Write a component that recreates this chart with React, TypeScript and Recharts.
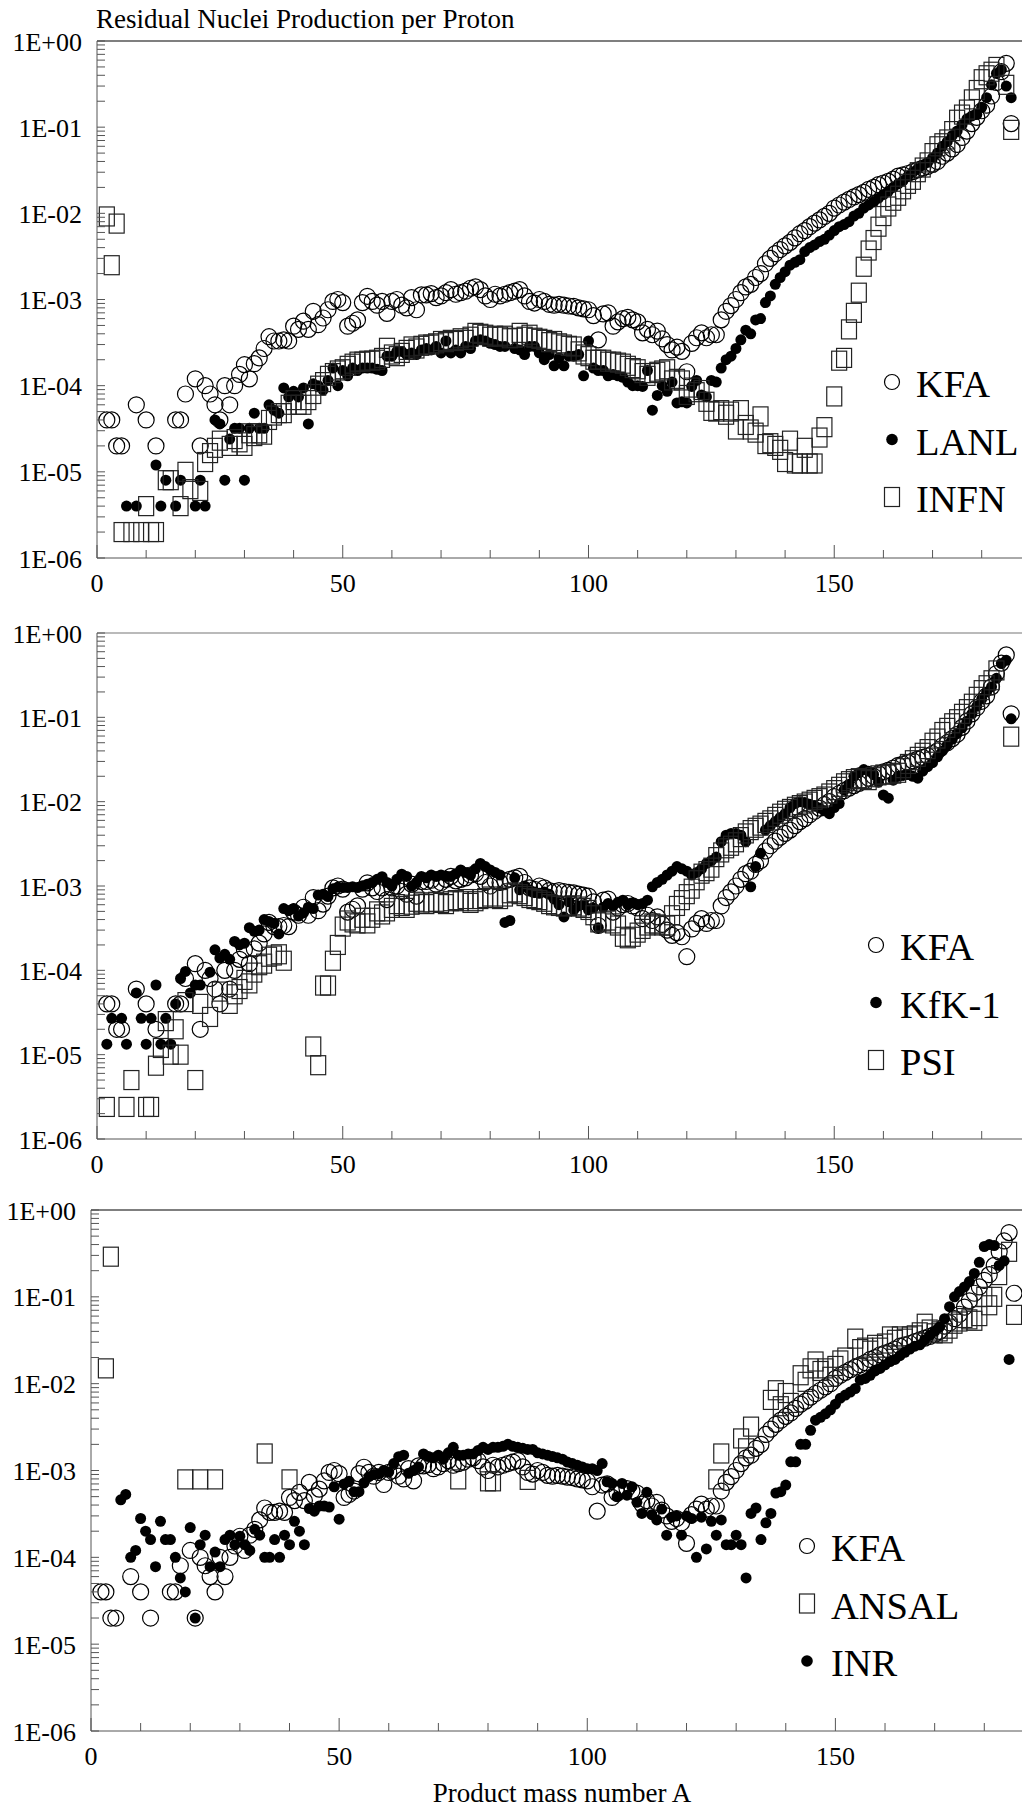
import React from "react";
import { Legend, ReferenceLine, Scatter, ScatterChart, XAxis, YAxis } from "recharts";

const SERIF = "'Liberation Serif', 'Times New Roman', Times, serif";
const INK = "#000000";
const AXIS = "#555555";
const TEXT_STYLE = { fontFamily: SERIF };

type Pt = [number, number]; // [mass number A, nuclei per proton]
type Mark = "ring" | "dot" | "box";

// KFA calculation (shown in every panel)
const KFA: Pt[] = [
  [2, 4e-5], [3, 4e-5], [4, 2e-5], [5, 2e-5], [8, 6e-5], [10, 4e-5], [12, 2e-5], [16, 4e-5], [17, 4e-5],
  [18, 8e-5], [20, 1.2e-4], [21, 2e-5], [22, 1e-4], [23, 8e-5], [24, 6e-5], [25, 4e-5], [26, 1e-4],
  [27, 6e-5], [28, 1e-4], [29, 1.35e-4], [30, 1.75e-4], [31, 1.2e-4], [32, 1.8e-4], [33, 2.1e-4],
  [34, 2.7e-4], [35, 3.7e-4], [36, 3.3e-4], [37, 3.3e-4], [38, 3.4e-4], [39, 3.3e-4], [40, 4.9e-4],
  [41, 4.5e-4], [42, 5.6e-4], [43, 4.5e-4], [44, 7.3e-4], [45, 5.1e-4], [46, 6.1e-4], [47, 7.6e-4],
  [48, 9.5e-4], [49, 1e-3], [50, 9.2e-4], [51, 4.9e-4], [52, 5.3e-4], [53, 5.8e-4], [54, 9.2e-4],
  [55, 1.09e-3], [56, 9.5e-4], [57, 8.6e-4], [58, 9.5e-4], [59, 6.9e-4], [60, 9.5e-4], [61, 1e-3],
  [62, 8.6e-4], [63, 8e-4], [64, 1.05e-3], [65, 7.6e-4], [66, 1.13e-3], [67, 1.13e-3], [68, 1.17e-3],
  [69, 1.05e-3], [70, 1.1e-3], [71, 1.2e-3], [72, 1.3e-3], [73, 1.15e-3], [74, 1.2e-3], [75, 1.25e-3],
  [76, 1.35e-3], [77, 1.4e-3], [78, 1.3e-3], [79, 1.1e-3], [80, 1e-3], [81, 1.15e-3], [82, 1.1e-3],
  [83, 1.15e-3], [84, 1.2e-3], [85, 1.25e-3], [86, 1.3e-3], [87, 1.1e-3], [88, 9.5e-4], [89, 9.1e-4],
  [90, 1e-3], [91, 9.5e-4], [92, 8.8e-4], [93, 8.6e-4], [94, 8.8e-4], [95, 8.6e-4], [96, 8.4e-4],
  [97, 8.3e-4], [98, 8e-4], [99, 7.8e-4], [100, 7.6e-4], [101, 6.5e-4], [102, 3.4e-4], [103, 6.8e-4],
  [104, 7e-4], [105, 4.9e-4], [106, 5.5e-4], [107, 6e-4], [108, 6.2e-4], [109, 5.8e-4], [110, 5.5e-4],
  [111, 4.1e-4], [112, 4.5e-4], [113, 3.9e-4], [114, 4.3e-4], [115, 3.5e-4], [116, 3e-4], [117, 2.6e-4],
  [118, 2.8e-4], [119, 2.5e-4], [120, 1.45e-4], [121, 3.1e-4], [122, 3.6e-4], [123, 4.1e-4],
  [124, 3.6e-4], [125, 3.9e-4], [126, 3.9e-4], [127, 5.8e-4], [128, 7.3e-4], [129, 8.5e-4], [130, 1e-3],
  [131, 1.2e-3], [132, 1.4e-3], [133, 1.5e-3], [134, 1.8e-3], [135, 2e-3], [136, 2.6e-3], [137, 3e-3],
  [138, 3.4e-3], [139, 3.8e-3], [140, 4.2e-3], [141, 4.6e-3], [142, 5.2e-3], [143, 5.8e-3], [144, 6.3e-3],
  [145, 7e-3], [146, 7.7e-3], [147, 8.4e-3], [148, 9.2e-3], [149, 1e-2], [150, 1.15e-2], [151, 1.25e-2],
  [152, 1.35e-2], [153, 1.45e-2], [154, 1.55e-2], [155, 1.65e-2], [156, 1.75e-2], [157, 1.9e-2],
  [158, 2e-2], [159, 2.15e-2], [160, 2.25e-2], [161, 2.35e-2], [162, 2.5e-2], [163, 2.7e-2], [164, 2.8e-2],
  [165, 2.9e-2], [166, 3.05e-2], [167, 3.2e-2], [168, 3.35e-2], [169, 3.5e-2], [170, 3.7e-2], [171, 4e-2],
  [172, 4.6e-2], [173, 5e-2], [174, 5.6e-2], [175, 6.3e-2], [176, 7.6e-2], [177, 9e-2], [178, 0.11],
  [179, 0.13], [180, 0.155], [181, 0.18], [182, 0.23], [183, 0.33], [184, 0.44], [185, 0.55], [186, 0.11],
];

const LANL: Pt[] = [
  [6, 4e-6], [8, 4e-6], [12, 1.2e-5], [13, 4e-6], [14, 8e-6], [16, 4e-6], [17, 8e-6], [20, 4e-6], [21, 8e-6],
  [22, 4e-6], [24, 4e-5], [25, 3.6e-5], [26, 8e-6], [27, 2.4e-5], [28, 3.2e-5], [29, 3.2e-5], [30, 8e-6],
  [31, 3.2e-5], [32, 4.8e-5], [33, 3.2e-5], [34, 3.2e-5], [35, 6e-5], [36, 5.2e-5], [37, 4.8e-5],
  [38, 9.4e-5], [39, 7.4e-5], [40, 8.6e-5], [41, 7.4e-5], [42, 9.4e-5], [43, 3.6e-5], [44, 1.05e-4],
  [45, 1e-4], [46, 8.9e-5], [47, 1.15e-4], [48, 1.6e-4], [49, 1e-4], [50, 1.5e-4], [51, 1.3e-4],
  [52, 1.6e-4], [53, 1.5e-4], [54, 1.6e-4], [55, 1.6e-4], [56, 1.6e-4], [57, 1.55e-4], [58, 1.5e-4],
  [59, 2.2e-4], [60, 2.2e-4], [61, 2.5e-4], [62, 2.5e-4], [63, 2.3e-4], [64, 2.4e-4], [65, 2.3e-4],
  [66, 2.6e-4], [67, 2.7e-4], [68, 2.6e-4], [69, 2.85e-4], [70, 2.4e-4], [71, 3.3e-4], [72, 2.4e-4],
  [73, 2.6e-4], [74, 2.4e-4], [75, 2.85e-4], [76, 2.7e-4], [77, 3.3e-4], [78, 3.4e-4], [79, 3.3e-4],
  [80, 3.1e-4], [81, 3e-4], [82, 2.85e-4], [83, 2.85e-4], [85, 2.7e-4], [86, 2.6e-4], [87, 2.3e-4],
  [88, 2.85e-4], [89, 2.85e-4], [90, 2.4e-4], [91, 2e-4], [92, 2.3e-4], [93, 1.7e-4], [94, 2.1e-4],
  [95, 1.7e-4], [96, 2.2e-4], [97, 2.2e-4], [98, 2.3e-4], [99, 1.3e-4], [100, 3.3e-4], [101, 1.6e-4],
  [102, 1.5e-4], [103, 1.5e-4], [104, 1.3e-4], [105, 1.35e-4], [106, 1.3e-4], [107, 1.25e-4],
  [108, 1.1e-4], [109, 1e-4], [110, 1e-4], [111, 9.8e-5], [112, 1.5e-4], [113, 5.2e-5], [114, 7.7e-5],
  [115, 1e-4], [116, 8.6e-5], [117, 1.1e-4], [118, 6.3e-5], [119, 6.5e-5], [120, 6.3e-5], [121, 9.8e-5],
  [122, 1.15e-4], [123, 7.8e-5], [124, 7.4e-5], [125, 1.15e-4], [126, 1.1e-4], [127, 1.6e-4], [128, 2e-4],
  [129, 2.2e-4], [130, 2.7e-4], [131, 3.4e-4], [132, 4.4e-4], [133, 4e-4], [134, 5.8e-4], [135, 6e-4],
  [136, 9.2e-4], [137, 1.1e-3], [138, 1.5e-3], [139, 1.8e-3], [140, 2.1e-3], [141, 2.5e-3], [142, 2.7e-3],
  [143, 2.9e-3], [144, 3.6e-3], [145, 4e-3], [146, 4.3e-3], [147, 4.7e-3], [148, 5e-3], [149, 5.6e-3],
  [150, 6.3e-3], [151, 7e-3], [152, 7.4e-3], [153, 8e-3], [154, 9.3e-3], [155, 1e-2], [156, 1.15e-2],
  [157, 1.25e-2], [158, 1.35e-2], [159, 1.5e-2], [160, 1.65e-2], [161, 1.8e-2], [162, 2e-2], [163, 2.2e-2],
  [164, 2.4e-2], [165, 2.7e-2], [166, 3e-2], [167, 3.3e-2], [168, 3.6e-2], [169, 3.9e-2], [170, 4.4e-2],
  [171, 5e-2], [172, 6e-2], [173, 6.8e-2], [174, 8e-2], [175, 9e-2], [176, 0.107], [177, 0.125],
  [178, 0.135], [179, 0.14], [180, 0.17], [181, 0.22], [182, 0.31], [183, 0.42], [184, 0.465], [185, 0.3],
  [186, 0.22],
];

const INFN: Pt[] = [
  [2, 9.2e-3], [3, 2.5e-3], [4, 7.6e-3], [5, 2e-6], [7, 2e-6], [9, 2e-6], [10, 4e-6], [11, 2e-6], [12, 2e-6],
  [14, 8e-6], [15, 8e-6], [17, 4e-6], [18, 1e-5], [19, 6.3e-6], [21, 6e-6], [22, 1.3e-5], [23, 1.65e-5],
  [24, 1.9e-5], [25, 2.3e-5], [27, 2e-5], [28, 2.4e-5], [29, 2.2e-5], [30, 2e-5], [31, 2.8e-5], [32, 2.6e-5],
  [33, 2.8e-5], [34, 2.7e-5], [35, 4e-5], [36, 4.5e-5], [37, 4.8e-5], [38, 4.8e-5], [39, 6e-5], [40, 6.8e-5],
  [41, 6e-5], [42, 6e-5], [43, 6.8e-5], [44, 8e-5], [45, 1e-4], [46, 1.1e-4], [47, 1.3e-4], [48, 1.4e-4],
  [49, 1.5e-4], [50, 1.55e-4], [51, 1.7e-4], [52, 1.8e-4], [53, 1.9e-4], [54, 1.9e-4], [55, 1.95e-4],
  [56, 1.95e-4], [57, 2e-4], [58, 2.1e-4], [59, 2.75e-4], [60, 2.3e-4], [61, 2.2e-4], [62, 2.4e-4],
  [63, 2.6e-4], [64, 2.85e-4], [65, 2.7e-4], [66, 2.9e-4], [67, 3e-4], [68, 3e-4], [69, 3.1e-4], [70, 3.3e-4],
  [71, 3.2e-4], [72, 3.4e-4], [73, 3.3e-4], [74, 3.55e-4], [75, 3.4e-4], [76, 3.7e-4], [77, 4.1e-4],
  [78, 4e-4], [79, 3.9e-4], [80, 3.7e-4], [81, 3.8e-4], [82, 3.7e-4], [83, 3.8e-4], [84, 3.55e-4],
  [85, 3.6e-4], [86, 4.1e-4], [87, 3.7e-4], [88, 3.9e-4], [89, 3.6e-4], [90, 3.5e-4], [91, 3.4e-4],
  [92, 3.2e-4], [93, 3.3e-4], [94, 3.1e-4], [95, 3e-4], [96, 2.9e-4], [97, 2.85e-4], [98, 2.5e-4],
  [99, 2.3e-4], [100, 2.2e-4], [101, 2e-4], [102, 2e-4], [103, 2e-4], [104, 1.9e-4], [105, 1.9e-4],
  [106, 1.85e-4], [107, 1.8e-4], [108, 1.7e-4], [109, 1.6e-4], [110, 1.55e-4], [111, 1.4e-4], [112, 1.3e-4],
  [113, 1.4e-4], [114, 1.45e-4], [115, 1.5e-4], [116, 1.55e-4], [117, 1.15e-4], [118, 1.2e-4],
  [119, 1.15e-4], [120, 7.8e-5], [121, 9.5e-5], [122, 8.4e-5], [123, 8.9e-5], [124, 6.5e-5], [125, 5.1e-5],
  [126, 5e-5], [127, 5.2e-5], [128, 4.6e-5], [129, 5e-5], [130, 3.1e-5], [131, 5.2e-5], [132, 3.5e-5],
  [133, 3.1e-5], [134, 2.85e-5], [135, 4.4e-5], [136, 2.1e-5], [137, 2.15e-5], [138, 2e-5], [139, 1.8e-5],
  [140, 1.3e-5], [141, 2.3e-5], [142, 1.25e-5], [143, 1.25e-5], [144, 1.9e-5], [145, 1.25e-5],
  [146, 1.25e-5], [147, 2.5e-5], [148, 3.3e-5], [150, 7.5e-5], [151, 1.95e-4], [152, 2.1e-4], [153, 4.5e-4],
  [154, 7e-4], [155, 1.2e-3], [156, 2.4e-3], [157, 3.7e-3], [158, 4.9e-3], [159, 7e-3], [160, 9.3e-3],
  [161, 1.2e-2], [162, 1.4e-2], [163, 1.6e-2], [164, 1.9e-2], [165, 2.2e-2], [166, 2.45e-2], [167, 3e-2],
  [168, 3.4e-2], [169, 3.9e-2], [170, 5e-2], [171, 6e-2], [172, 6.5e-2], [173, 7.2e-2], [174, 9e-2],
  [175, 0.122], [176, 0.14], [177, 0.16], [178, 0.21], [179, 0.27], [180, 0.36], [181, 0.4], [182, 0.44],
  [183, 0.5], [185, 0.31], [186, 9.3e-2],
];

const KFK1: Pt[] = [
  [2, 1.33e-5], [3, 2.7e-5], [5, 2.7e-5], [6, 1.33e-5], [8, 5.4e-5], [9, 2.7e-5], [10, 1.33e-5], [11, 2.7e-5],
  [12, 6.7e-5], [13, 1.33e-5], [14, 2.7e-5], [15, 1.33e-5], [16, 4e-5], [17, 8e-5], [18, 9.7e-5],
  [19, 5.4e-5], [20, 6.7e-5], [21, 6.7e-5], [23, 9.5e-5], [24, 1.75e-4], [25, 1.4e-4], [26, 1.55e-4],
  [27, 1.35e-4], [28, 2.2e-4], [29, 2e-4], [30, 2.1e-4], [31, 3.2e-4], [32, 2.9e-4], [33, 3e-4], [34, 4e-4],
  [35, 3.8e-4], [36, 3.6e-4], [37, 2.7e-4], [38, 5.4e-4], [39, 5.1e-4], [40, 5.4e-4], [41, 4.4e-4],
  [42, 4.8e-4], [43, 5.6e-4], [44, 5.4e-4], [45, 7.8e-4], [46, 8e-4], [47, 7.5e-4], [48, 9.3e-4],
  [49, 9.7e-4], [50, 9.6e-4], [51, 9.6e-4], [52, 9.8e-4], [53, 9.6e-4], [54, 1e-3], [55, 1.05e-3],
  [56, 1.1e-3], [57, 1.2e-3], [58, 1.29e-3], [59, 1.1e-3], [60, 1e-3], [61, 1.2e-3], [62, 1.38e-3],
  [63, 1.3e-3], [64, 1e-3], [65, 1.1e-3], [66, 1.3e-3], [67, 1.25e-3], [68, 1.35e-3], [69, 1.3e-3],
  [70, 1.35e-3], [71, 1.3e-3], [72, 1.3e-3], [73, 1.4e-3], [74, 1.55e-3], [75, 1.45e-3], [76, 1.35e-3],
  [77, 1.6e-3], [78, 1.85e-3], [79, 1.7e-3], [80, 1.55e-3], [81, 1.45e-3], [82, 1.35e-3], [83, 3.7e-4],
  [84, 3.9e-4], [85, 1.25e-3], [86, 9e-4], [87, 1e-3], [88, 9e-4], [89, 8.5e-4], [90, 8.2e-4], [91, 8.5e-4],
  [92, 8e-4], [93, 7e-4], [94, 6e-4], [95, 4.3e-4], [96, 6.5e-4], [97, 5.2e-4], [98, 5.8e-4], [99, 6e-4],
  [100, 5.2e-4], [101, 5.5e-4], [102, 3.2e-4], [103, 5.6e-4], [104, 6.2e-4], [105, 5.8e-4], [106, 6.4e-4],
  [107, 6.8e-4], [108, 6e-4], [109, 6.3e-4], [110, 6e-4], [111, 6.2e-4], [112, 6.8e-4], [113, 9.8e-4],
  [114, 1.1e-3], [115, 1.2e-3], [116, 1.35e-3], [117, 1.5e-3], [118, 1.7e-3], [119, 1.6e-3], [120, 1.5e-3],
  [121, 1.35e-3], [122, 1.45e-3], [123, 1.6e-3], [124, 1.85e-3], [125, 2e-3], [126, 2.2e-3], [127, 3.35e-3],
  [128, 4e-3], [129, 4.2e-3], [130, 4.2e-3], [131, 4e-3], [132, 3.35e-3], [133, 9.8e-4], [134, 1.7e-3],
  [135, 2.45e-3], [136, 4.6e-3], [137, 5.2e-3], [138, 5.8e-3], [139, 6.5e-3], [140, 7.2e-3], [141, 8.5e-3],
  [142, 9.5e-3], [143, 1e-2], [144, 9.8e-3], [145, 9.3e-3], [146, 9e-3], [147, 8.4e-3], [148, 7.8e-3],
  [149, 7.2e-3], [150, 8.5e-3], [151, 9.5e-3], [152, 1.37e-2], [153, 1.6e-2], [154, 2e-2], [155, 2.2e-2],
  [156, 2.4e-2], [157, 2.3e-2], [158, 2.1e-2], [159, 1.7e-2], [160, 1.2e-2], [161, 1.1e-2], [162, 1.8e-2],
  [163, 2e-2], [164, 2.05e-2], [165, 2.1e-2], [166, 2e-2], [167, 1.9e-2], [168, 2.3e-2], [169, 2.6e-2],
  [170, 2.9e-2], [171, 3.4e-2], [172, 4e-2], [173, 4.7e-2], [174, 5.5e-2], [175, 6.4e-2], [176, 7.5e-2],
  [177, 9e-2], [178, 0.11], [179, 0.135], [180, 0.165], [181, 0.2], [182, 0.23], [183, 0.29], [184, 0.435],
  [185, 0.475], [186, 9.6e-2],
];

const PSI: Pt[] = [
  [2, 2.4e-6], [6, 2.4e-6], [7, 5e-6], [10, 2.4e-6], [11, 2.4e-6], [12, 7.4e-6], [13, 1.2e-5], [14, 2.5e-5],
  [15, 1e-5], [16, 2e-5], [17, 1e-5], [18, 4.2e-5], [20, 5e-6], [21, 4e-5], [23, 2.8e-5], [25, 5.6e-5],
  [27, 4e-5], [28, 5.2e-5], [29, 6e-5], [30, 7.7e-5], [31, 7e-5], [32, 9.4e-5], [33, 1.15e-4], [34, 1.2e-4],
  [35, 1.45e-4], [36, 1.5e-4], [37, 1.55e-4], [38, 1.3e-4], [44, 1.25e-5], [45, 7.5e-6], [46, 6.6e-5],
  [47, 6.6e-5], [48, 1.3e-4], [49, 2e-4], [50, 3.3e-4], [51, 3.9e-4], [52, 3.7e-4], [53, 3.6e-4],
  [54, 4.2e-4], [55, 3.6e-4], [56, 4.2e-4], [57, 5e-4], [58, 4.6e-4], [59, 5e-4], [60, 5.5e-4], [61, 6.1e-4],
  [62, 5.8e-4], [63, 5.5e-4], [64, 6e-4], [65, 6.5e-4], [66, 6.2e-4], [67, 6.1e-4], [68, 6.4e-4],
  [69, 6.5e-4], [70, 6.3e-4], [71, 6.1e-4], [72, 6.6e-4], [73, 6.8e-4], [74, 6.6e-4], [75, 7e-4],
  [76, 6.3e-4], [77, 6.6e-4], [78, 7e-4], [79, 7.2e-4], [80, 7.5e-4], [81, 7.2e-4], [82, 7e-4], [83, 7.5e-4],
  [84, 8.2e-4], [85, 8.4e-4], [86, 8e-4], [87, 7.6e-4], [88, 7.2e-4], [89, 7e-4], [90, 6.8e-4], [91, 6.5e-4],
  [92, 6.1e-4], [93, 5.9e-4], [94, 5.8e-4], [95, 5.7e-4], [96, 5.8e-4], [97, 5.9e-4], [98, 5.7e-4],
  [99, 5.5e-4], [100, 5.2e-4], [101, 4.5e-4], [102, 3.7e-4], [103, 3.8e-4], [104, 3.9e-4], [105, 3.6e-4],
  [106, 3.4e-4], [107, 2.5e-4], [108, 2.4e-4], [109, 2.5e-4], [110, 2.8e-4], [111, 3.1e-4], [112, 3.4e-4],
  [113, 3.6e-4], [114, 3.5e-4], [115, 3.4e-4], [116, 3.4e-4], [117, 4.5e-4], [118, 5.8e-4], [119, 6.8e-4],
  [120, 8e-4], [121, 9.3e-4], [122, 1.17e-3], [123, 1.4e-3], [124, 1.5e-3], [125, 1.65e-3], [126, 2.2e-3],
  [127, 2.5e-3], [128, 2.8e-3], [129, 3e-3], [130, 3.3e-3], [131, 3.8e-3], [132, 4.2e-3], [133, 4.6e-3],
  [134, 4.9e-3], [135, 5.2e-3], [136, 5.6e-3], [137, 6e-3], [138, 6.6e-3], [139, 7.2e-3], [140, 7.8e-3],
  [141, 8.2e-3], [142, 8.7e-3], [143, 9.1e-3], [144, 9.5e-3], [145, 1e-2], [146, 1.05e-2], [147, 1.1e-2],
  [148, 1.15e-2], [149, 1.25e-2], [150, 1.37e-2], [151, 1.5e-2], [152, 1.65e-2], [153, 1.75e-2],
  [154, 1.85e-2], [155, 1.9e-2], [156, 1.85e-2], [157, 1.8e-2], [158, 1.95e-2], [159, 2.05e-2], [160, 2.1e-2],
  [161, 2.1e-2], [162, 2.15e-2], [163, 2.2e-2], [164, 2.5e-2], [165, 2.8e-2], [166, 3.1e-2], [167, 3.4e-2],
  [168, 3.8e-2], [169, 4.2e-2], [170, 5e-2], [171, 5.6e-2], [172, 6.7e-2], [173, 7.5e-2], [174, 8.5e-2],
  [175, 9.5e-2], [176, 0.11], [177, 0.125], [178, 0.145], [179, 0.175], [180, 0.21], [181, 0.24],
  [182, 0.275], [183, 0.36], [186, 5.9e-2],
];

const ANSAL: Pt[] = [
  [3, 1.5e-2], [4, 0.29], [19, 7.9e-4], [22, 7.9e-4], [25, 7.9e-4], [35, 1.57e-3], [40, 7.9e-4],
  [74, 7.9e-4], [80, 7.5e-4], [81, 7.5e-4], [88, 7.8e-4], [126, 7.9e-4], [127, 1.57e-3], [131, 2.34e-3],
  [132, 1.8e-3], [133, 3.2e-3], [137, 6.5e-3], [138, 8.4e-3], [139, 5.5e-3], [140, 7.8e-3], [141, 6e-3],
  [143, 1.25e-2], [144, 1.05e-2], [145, 1.5e-2], [146, 1.8e-2], [147, 1.4e-2], [148, 1.5e-2], [149, 1.2e-2],
  [150, 1.6e-2], [151, 1.85e-2], [152, 2e-2], [154, 3.3e-2], [155, 2.5e-2], [156, 2.6e-2], [157, 2.4e-2],
  [158, 2.8e-2], [159, 2.6e-2], [160, 2.9e-2], [161, 3.5e-2], [162, 3.2e-2], [163, 3.5e-2], [164, 3.3e-2],
  [165, 3.5e-2], [166, 3.6e-2], [167, 3.9e-2], [168, 4.9e-2], [169, 4.2e-2], [170, 3.8e-2], [171, 4e-2],
  [172, 3.8e-2], [173, 4.3e-2], [174, 4.9e-2], [175, 5.2e-2], [176, 5.7e-2], [177, 5.5e-2], [178, 5.3e-2],
  [179, 6e-2], [180, 0.1], [181, 8e-2], [182, 0.1], [183, 0.178], [185, 0.33], [186, 6.2e-2],
];

const INR: Pt[] = [
  [6, 4.6e-4], [7, 5.3e-4], [8, 1e-4], [9, 1.2e-4], [10, 2.8e-4], [11, 2e-4], [12, 1.6e-4], [13, 7.8e-5],
  [14, 2.6e-4], [15, 1.6e-4], [16, 1.6e-4], [17, 1e-4], [18, 5.8e-5], [19, 4e-5], [20, 2.2e-4], [21, 2e-5],
  [22, 1.4e-4], [23, 1.8e-4], [24, 7.8e-5], [25, 1.15e-4], [26, 7.8e-5], [27, 1.6e-4], [28, 1.8e-4],
  [29, 1.4e-4], [30, 1.75e-4], [31, 1.4e-4], [32, 1.2e-4], [33, 2.1e-4], [34, 1.8e-4], [35, 1e-4],
  [36, 1e-4], [37, 1.6e-4], [38, 1e-4], [39, 1.8e-4], [40, 1.4e-4], [41, 2.6e-4], [42, 2e-4], [43, 1.4e-4],
  [44, 3.65e-4], [45, 3.4e-4], [46, 3.9e-4], [47, 3.9e-4], [48, 3.8e-4], [49, 6.5e-4], [50, 2.75e-4],
  [51, 7e-4], [52, 7.5e-4], [53, 5.7e-4], [54, 5.7e-4], [55, 7.2e-4], [56, 8.5e-4], [57, 9e-4], [58, 9.2e-4],
  [59, 1e-3], [60, 9.6e-4], [61, 1.2e-3], [62, 1.44e-3], [63, 1.5e-3], [64, 9.3e-4], [65, 1e-3],
  [66, 1.1e-3], [67, 1.55e-3], [68, 1.45e-3], [69, 1.4e-3], [70, 1.5e-3], [71, 1.35e-3], [72, 1.6e-3],
  [73, 1.85e-3], [74, 1.5e-3], [75, 1.5e-3], [76, 1.55e-3], [77, 1.55e-3], [78, 1.7e-3], [79, 1.85e-3],
  [80, 1.75e-3], [81, 1.85e-3], [82, 1.85e-3], [83, 1.9e-3], [84, 2e-3], [85, 1.9e-3], [86, 1.85e-3],
  [87, 1.8e-3], [88, 1.75e-3], [89, 1.75e-3], [90, 1.6e-3], [91, 1.55e-3], [92, 1.5e-3], [93, 1.45e-3],
  [94, 1.4e-3], [95, 1.35e-3], [96, 1.25e-3], [97, 1.2e-3], [98, 1.15e-3], [99, 1.1e-3], [100, 1.05e-3],
  [101, 1.05e-3], [102, 1e-3], [103, 1.2e-3], [104, 7.4e-4], [105, 7.1e-4], [106, 5e-4], [107, 7.1e-4],
  [108, 5.2e-4], [109, 6.5e-4], [110, 4.3e-4], [111, 3.2e-4], [112, 5.6e-4], [113, 3.1e-4], [114, 2.7e-4],
  [115, 3.6e-4], [116, 1.8e-4], [117, 2.9e-4], [118, 3e-4], [119, 1.8e-4], [120, 3e-4], [121, 2.8e-4],
  [122, 1e-4], [123, 2.9e-4], [124, 1.25e-4], [125, 2.6e-4], [126, 1.8e-4], [127, 2.7e-4], [128, 1.4e-4],
  [129, 1.4e-4], [130, 1.8e-4], [131, 1.4e-4], [132, 5.8e-5], [133, 3.2e-4], [134, 3.7e-4], [135, 1.6e-4],
  [136, 2.5e-4], [137, 3.2e-4], [138, 5.5e-4], [139, 5.7e-4], [140, 6.8e-4], [141, 1.26e-3], [142, 1.26e-3],
  [143, 2e-3], [144, 2e-3], [145, 2.9e-3], [146, 3.8e-3], [147, 4.1e-3], [148, 4.5e-3], [149, 5e-3],
  [150, 5.8e-3], [151, 6.8e-3], [152, 7.4e-3], [153, 8e-3], [154, 8.8e-3], [155, 1.1e-2], [156, 1.15e-2],
  [157, 1.25e-2], [158, 1.4e-2], [159, 1.5e-2], [160, 1.65e-2], [161, 1.8e-2], [162, 1.9e-2], [163, 2.1e-2],
  [164, 2.3e-2], [165, 2.5e-2], [166, 2.7e-2], [167, 2.8e-2], [168, 3.2e-2], [169, 3.6e-2], [170, 4e-2],
  [171, 4.5e-2], [172, 5.6e-2], [173, 7.7e-2], [174, 0.1], [175, 0.115], [176, 0.13], [177, 0.15],
  [178, 0.186], [179, 0.25], [180, 0.38], [181, 0.4], [182, 0.39], [183, 0.23], [184, 0.26], [185, 1.9e-2],
];

const X_TICKS = [0, 10, 20, 30, 40, 50, 60, 70, 80, 90, 100, 110, 120, 130, 140, 150, 160, 170, 180];
const Y_DECADES = [1e-6, 1e-5, 1e-4, 1e-3, 1e-2, 1e-1, 1];
const Y_MINOR_STEPS = [2, 3, 4, 5, 6, 7, 8, 9];
const Y_TICKS = [
  ...Y_DECADES,
  ...Y_DECADES.slice(0, -1).flatMap((d) => Y_MINOR_STEPS.map((k) => k * d)),
].sort((a, b) => a - b);

function expLabel(v: number) {
  const e = Math.round(Math.log10(v));
  return `1E${e < 0 ? "-" : "+"}${String(Math.abs(e)).padStart(2, "0")}`;
}

function YTick(props: any) {
  const { x, y, payload } = props;
  const lg = Math.log10(payload.value);
  const major = Math.abs(lg - Math.round(lg)) < 1e-6;
  return (
    <g>
      <line x1={x} x2={x + 8} y1={y} y2={y} stroke={AXIS} strokeWidth={1} />
      {major && (
        <text
          x={x - 15}
          y={y + 9.5}
          textAnchor="end"
          fontFamily={SERIF}
          style={TEXT_STYLE}
          fontSize={26}
          fill={INK}
        >
          {expLabel(payload.value)}
        </text>
      )}
    </g>
  );
}

function XTick(props: any) {
  const { x, y, payload } = props;
  const major = payload.value % 50 === 0;
  return (
    <g>
      <line x1={x} x2={x} y1={y} y2={y - (major ? 13 : 8)} stroke={AXIS} strokeWidth={1} />
      {major && (
        <text
          x={x}
          y={y + 33.5}
          textAnchor="middle"
          fontFamily={SERIF}
          style={TEXT_STYLE}
          fontSize={26}
          fill={INK}
        >
          {payload.value}
        </text>
      )}
    </g>
  );
}

function Marker({ kind, cx, cy, small }: { kind: Mark; cx: number; cy: number; small?: boolean }) {
  if (kind === "ring") {
    return <circle cx={cx} cy={cy} r={small ? 7.5 : 8} fill="none" stroke={INK} strokeWidth={1.2} />;
  }
  if (kind === "dot") {
    return <circle cx={cx} cy={cy} r={small ? 5.8 : 5.5} fill={INK} />;
  }
  return (
    <rect x={cx - 7.5} y={cy - 9.5} width={15} height={19} fill="none" stroke="#222" strokeWidth={1.2} />
  );
}

type Series = { name: string; kind: Mark; data: Pt[] };

function KeyBox({ series }: { series: Series[] }) {
  return (
    <svg width={240} height={180} style={{ display: "block", overflow: "visible" }}>
      {series.map((s, i) => {
        const cy = 28 + i * 57.5;
        return (
          <g key={s.name}>
            <Marker kind={s.kind} cx={24} cy={cy} small />
            <text x={48} y={cy + 15} fontFamily={SERIF} style={TEXT_STYLE} fontSize={38.5} fill={INK}>
              {s.name}
            </text>
          </g>
        );
      })}
    </svg>
  );
}

type PanelProps = {
  top: number; // page y of the chart box
  plotH: number;
  axisW: number;
  xMax: number;
  frame: string;
  keyX: number;
  keyY: number; // first legend row centre, relative to chart box
  series: Series[];
};

const CHART_W = 1022;
const PAD_TOP = 24;
const X_AXIS_H = 60;

function Panel({ top, plotH, axisW, xMax, frame, keyX, keyY, series }: PanelProps) {
  return (
    <div style={{ position: "absolute", left: 0, top }}>
      <ScatterChart
        width={CHART_W}
        height={PAD_TOP + plotH + X_AXIS_H}
        margin={{ top: PAD_TOP, right: 0, bottom: 0, left: 0 }}
        style={{ fontFamily: SERIF }}
      >
        <XAxis
          type="number"
          dataKey="a"
          domain={[0, xMax]}
          ticks={X_TICKS}
          interval={0}
          allowDataOverflow
          height={X_AXIS_H}
          tickSize={0}
          tickMargin={0}
          tickLine={false}
          axisLine={{ stroke: AXIS, strokeWidth: 1 }}
          tick={XTick}
        />
        <YAxis
          type="number"
          dataKey="v"
          scale="log"
          domain={[1e-6, 1]}
          ticks={Y_TICKS}
          interval={0}
          allowDataOverflow
          width={axisW}
          tickSize={0}
          tickMargin={0}
          tickLine={false}
          axisLine={{ stroke: AXIS, strokeWidth: 1 }}
          tick={YTick}
        />
        <ReferenceLine y={1} stroke={frame} strokeWidth={1.2} />
        {series.map((s) => (
          <Scatter
            key={s.name}
            name={s.name}
            data={s.data.map(([a, v]) => ({ a, v }))}
            isAnimationActive={false}
            shape={(p: any) => <Marker kind={s.kind} cx={p.cx} cy={p.cy} />}
          />
        ))}
        <Legend
          layout="vertical"
          align="center"
          verticalAlign="middle"
          wrapperStyle={{ left: keyX - 24, top: keyY - 28, width: 240, height: 180 }}
          content={() => <KeyBox series={series} />}
        />
      </ScatterChart>
    </div>
  );
}

const PANEL_A: Series[] = [
  { name: "KFA", kind: "ring", data: KFA },
  { name: "LANL", kind: "dot", data: LANL },
  { name: "INFN", kind: "box", data: INFN },
];
const PANEL_B: Series[] = [
  { name: "KFA", kind: "ring", data: KFA },
  { name: "KfK-1", kind: "dot", data: KFK1 },
  { name: "PSI", kind: "box", data: PSI },
];
const PANEL_C: Series[] = [
  { name: "KFA", kind: "ring", data: KFA },
  { name: "ANSAL", kind: "box", data: ANSAL },
  { name: "INR", kind: "dot", data: INR },
];

export default function App() {
  return (
    <div
      style={{
        position: "absolute",
        left: 0,
        top: 0,
        width: 1022,
        height: 1809,
        background: "#fff",
        overflow: "hidden",
        fontFamily: SERIF,
      }}
    >
      <svg width={1022} height={1809} style={{ position: "absolute", left: 0, top: 0 }}>
        <text x={96} y={28} fontFamily={SERIF} style={TEXT_STYLE} fontSize={27} fill={INK}>
          Residual Nuclei Production per Proton
        </text>
        <text x={562} y={1802} textAnchor="middle" fontFamily={SERIF} style={TEXT_STYLE} fontSize={27} fill={INK}>
          Product mass number A
        </text>
      </svg>
      <Panel top={17} plotH={517} axisW={97} xMax={188.2} frame="#000" keyX={892} keyY={365} series={PANEL_A} />
      <Panel top={609} plotH={506} axisW={97} xMax={188.2} frame="#777" keyX={876} keyY={336} series={PANEL_B} />
      <Panel top={1186} plotH={521} axisW={91} xMax={187.6} frame="#000" keyX={807} keyY={360} series={PANEL_C} />
    </div>
  );
}
